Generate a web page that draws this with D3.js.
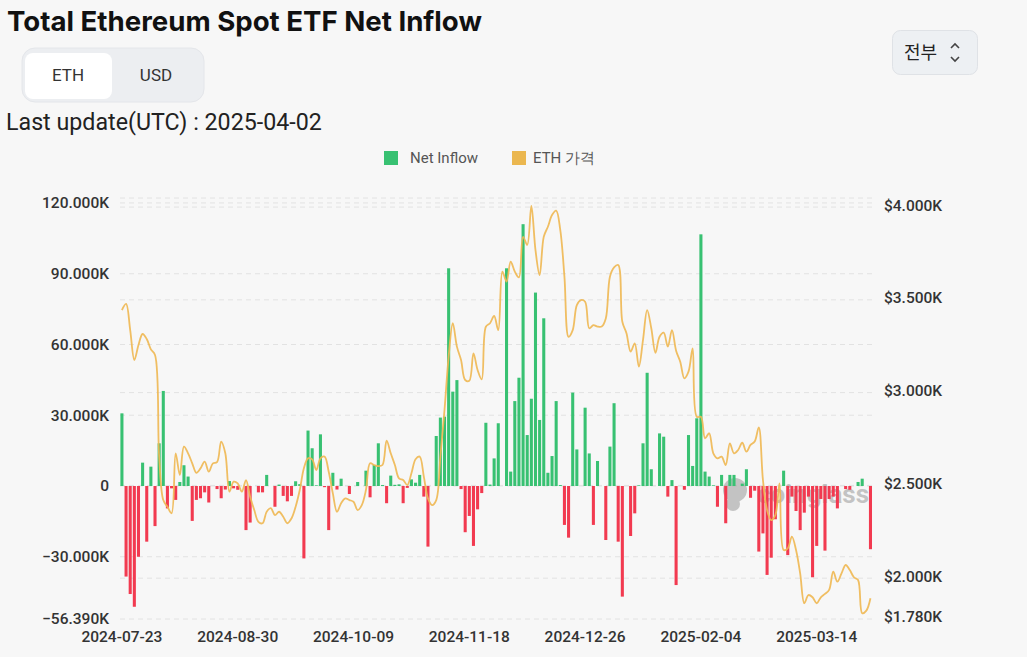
<!DOCTYPE html>
<html>
  <head>
    <meta charset="utf-8">
    <script src="https://d3js.org/d3.v7.min.js"></script>
    <title>Total Ethereum Spot ETF Net Inflow</title>
    <style>
      body { margin: 0; background: #f7f7f7; }
    </style>
  </head>
  <body>

    <svg></svg>

    <script type="text/javascript">

      // daily net inflow, thousands of ETH (one value per weekday, 2024-07-23 .. 2025-04-02)
      var netInflow = [
        30.8, -38.4, -45.8, -51.2, -30.0, 9.9, -23.6, 8.2, -17.0, 18.1,
        40.3, -9.5, -1.0, -5.9, 1.7, 8.8, 4.0, -14.8, -5.9, -5.2,
        -2.7, -7.0, 0, -1.3, -5.2, -1.5, 2.1, -1.0, -1.6, 0,
        -18.7, -15.5, 0, -2.7, -2.7, 4.7, 0, -8.8, 0.6, -4.2,
        -6.5, -4.2, 2.0, 0.8, -30.7, 23.5, 16.0, 0.3, 21.9, -0.5,
        -18.7, 5.6, -1.5, 3.1, 0, -3.4, 0, 1.7, 0, 6.5,
        -4.8, 8.9, 18.1, 0.4, -7.3, 4.4, 0.5, 0.7, -7.3, -0.8,
        2.8, 1.4, 4.7, -4.5, -25.7, 0, 21.2, 29.0, 29.4, 92.3,
        40.0, 44.9, -1.3, -19.6, -12.7, -25.4, -9.9, -3.0, 26.8, 0.6,
        11.7, 26.6, 0, 92.3, 6.1, 36.0, 45.9, 111.0, 21.6, 37.0,
        82.0, 28.0, 71.1, 5.6, 12.7, 36.0, 0.4, -16.5, -21.9, 39.6,
        15.5, 0, 33.2, 13.8, -16.5, 10.6, 0, -22.9, 16.7, 35.1,
        -23.6, -46.9, 0, -21.2, -11.6, 0.3, 18.1, 48.0, 7.1, 0,
        22.3, 20.9, -4.5, 2.5, -42.0, 0, -1.6, 21.6, 8.5, 28.7,
        106.7, 6.1, 4.0, 0.3, -8.8, 4.7, -15.8, 4.7, 4.7, 0,
        1.0, 7.1, -5.0, -2.0, -27.8, -20.1, -37.7, -30.4, -14.1, 0,
        6.5, -29.3, -4.5, -10.6, -18.7, -11.3, -4.5, -38.7, -25.4, -5.5,
        -27.4, -5.5, -4.5, -9.5, 0, -1.3, -1.6, 0, 1.7, 3.1,
        0, -26.8
      ];

      // ETH price, USD
      var ethPrice = [
        3445, 3478, 3337, 3176, 3257, 3316, 3289, 3233, 3203, 2655,
        2421, 2385, 2350, 2673, 2556, 2709, 2673, 2619, 2568, 2592,
        2628, 2574, 2619, 2625, 2736, 2673, 2466, 2520, 2511, 2466,
        2529, 2439, 2367, 2304, 2296, 2358, 2377, 2340, 2358, 2331,
        2296, 2322, 2385, 2475, 2592, 2646, 2640, 2583, 2646, 2655,
        2574, 2457, 2358, 2404, 2430, 2421, 2412, 2367, 2394, 2475,
        2619, 2610, 2604, 2610, 2741, 2673, 2610, 2538, 2529, 2502,
        2565, 2641, 2655, 2547, 2430, 2394, 2421, 2655, 2906, 3194,
        3374, 3248, 3176, 3068, 3064, 3212, 3122, 3072, 3355, 3374,
        3413, 3337, 3652, 3598, 3706, 3652, 3621, 3840, 3796, 4006,
        3768, 3634, 3840, 3894, 3957, 3981, 3876, 3625, 3301, 3337,
        3472, 3499, 3490, 3347, 3364, 3356, 3356, 3400, 3625, 3675,
        3688, 3382, 3320, 3221, 3266, 3140, 3284, 3445, 3347, 3215,
        3301, 3323, 3248, 3337, 3226, 3167, 3077, 3113, 3239, 2870,
        2870, 2754, 2781, 2673, 2646, 2655, 2610, 2727, 2673, 2691,
        2730, 2682, 2718, 2736, 2813, 2529, 2367, 2313, 2340, 2511,
        2152, 2161, 2224, 2152, 2026, 1865, 1909, 1897, 1865, 1897,
        1915, 1937, 2035, 1981, 2026, 2071, 2044, 2005, 1990, 1811,
        1825, 1892
      ];

      var xTickLabels = ["2024-07-23", "2024-08-30", "2024-10-09", "2024-11-18",
                         "2024-12-26", "2025-02-04", "2025-03-14"];
      var leftTicks = [120, 90, 60, 30, 0, -30, -56.39];
      var rightTicks = [4000, 3500, 3000, 2500, 2000, 1780];

      // every weekday in the range
      var fmt = d3.timeFormat("%Y-%m-%d");
      var dates = d3.timeDay.range(new Date(2024, 6, 23), new Date(2025, 3, 3))
                    .filter(d => d.getDay() != 0 && d.getDay() != 6)
                    .map(fmt);

      var width = 1027, height = 657;
      var svg = d3.select("svg").attr("width", width).attr("height", height)
                  .style("font-family", "Roboto, sans-serif");

      var x = d3.scaleBand().domain(dates).range([120.4, 872]).paddingInner(0.26);
      var yL = d3.scaleLinear().domain([-56.39, 122.1]).range([619, 198]);
      var yR = d3.scaleLinear().domain([1780, 4049]).range([619, 198]);
      var cx = d => x(d) + x.bandwidth()/2;

      // header
      var title = svg.append("text").attr("x", 7).attr("y", 31)
        .attr("font-family", "Inter, sans-serif").attr("font-weight", 700)
        .attr("font-size", 27).attr("fill", "#111")
        .text("Total Ethereum Spot ETF Net Inflow");
      var tw = title.node().getComputedTextLength();
      title.attr("font-size", 27 * 475 / tw);

      svg.append("rect").attr("x", 22).attr("y", 48).attr("width", 182).attr("height", 54)
        .attr("rx", 13).attr("fill", "#eceef1").attr("stroke", "#e4e6ea");
      svg.append("rect").attr("x", 25).attr("y", 53).attr("width", 87).attr("height", 46)
        .attr("rx", 8).attr("fill", "#fff");
      svg.append("text").attr("x", 68).attr("y", 81).attr("text-anchor", "middle")
        .attr("font-size", 17).attr("fill", "#333").text("ETH");
      svg.append("text").attr("x", 156).attr("y", 81).attr("text-anchor", "middle")
        .attr("font-size", 17).attr("fill", "#333").text("USD");

      var upd = svg.append("text").attr("x", 6).attr("y", 130)
        .attr("font-size", 21).attr("fill", "#222")
        .text("Last update(UTC) : 2025-04-02");
      upd.attr("font-size", 21 * 316 / upd.node().getComputedTextLength());

      svg.append("rect").attr("x", 892.5).attr("y", 30.5).attr("width", 85).attr("height", 44)
        .attr("rx", 8).attr("fill", "#edf0f3").attr("stroke", "#dfe2e6");
      svg.append("text").attr("x", 904).attr("y", 59)
        .attr("font-family", "'Noto Sans CJK KR', sans-serif").attr("font-size", 18)
        .attr("fill", "#222").text("전부");
      svg.append("path").attr("d", "M951,48 l4,-4 l4,4 M951,57 l4,4 l4,-4")
        .attr("fill", "none").attr("stroke", "#444").attr("stroke-width", 1.6);

      // legend
      svg.append("rect").attr("x", 384).attr("y", 151).attr("width", 14).attr("height", 14).attr("fill", "#38c172");
      svg.append("text").attr("x", 410).attr("y", 163).attr("font-size", 15).attr("fill", "#555").text("Net Inflow");
      svg.append("rect").attr("x", 512).attr("y", 151).attr("width", 14).attr("height", 14).attr("fill", "#ebb74f");
      svg.append("text").attr("x", 533).attr("y", 163).attr("font-size", 15).attr("fill", "#555")
        .text("ETH 가격");

      // grid lines
      var grid = svg.append("g").attr("stroke", "#e2e2e2").attr("stroke-dasharray", "5,4");
      grid.selectAll(".gl").data(leftTicks.concat([122.1])).join("line")
        .attr("x1", 120).attr("x2", 872)
        .attr("y1", d => yL(d)).attr("y2", d => yL(d));
      grid.selectAll(".gr").data(rightTicks.slice(0, 5)).join("line")
        .attr("x1", 120).attr("x2", 872)
        .attr("y1", d => yR(d)).attr("y2", d => yR(d));

      // axes labels
      var axisFont = g => g.attr("font-size", 15.5).attr("font-weight", 500).attr("fill", "#333");
      svg.append("g").call(axisFont).selectAll("text").data(leftTicks).join("text")
        .attr("x", 109).attr("y", d => yL(d)).attr("dy", "0.35em").attr("text-anchor", "end")
        .text(d => d == 0 ? "0" : d3.format(".3f")(d) + "K");
      svg.append("g").call(axisFont).selectAll("text").data(rightTicks).join("text")
        .attr("x", 884).attr("y", d => yR(d) - 2).attr("dy", "0.35em")
        .text(d => "$" + (d/1000).toFixed(3) + "K");
      svg.append("g").call(axisFont).selectAll("text").data(xTickLabels).join("text")
        .attr("x", d => cx(d)).attr("y", 642).attr("text-anchor", "middle")
        .text(d => d);

      // watermark
      var wm = svg.append("g").attr("opacity", 0.55).attr("fill", "#9a9a9a");
      wm.append("circle").attr("cx", 735).attr("cy", 490).attr("r", 12);
      wm.append("circle").attr("cx", 733).attr("cy", 504).attr("r", 7);
      wm.append("text").attr("x", 757).attr("y", 503).attr("font-size", 26)
        .attr("font-weight", 700).text("coinglass");

      // bars
      svg.append("g").selectAll("rect").data(dates).join("rect")
        .attr("x", d => x(d))
        .attr("width", x.bandwidth())
        .attr("y", (d, i) => yL(Math.max(0, netInflow[i])))
        .attr("height", (d, i) => Math.abs(yL(netInflow[i]) - yL(0)))
        .attr("fill", (d, i) => netInflow[i] >= 0 ? "#38c172" : "#f23a50");

      // price line
      var line = d3.line()
        .x((p, i) => cx(dates[i]))
        .y(p => yR(p))
        .curve(d3.curveCatmullRom.alpha(0.5));
      svg.append("path").datum(ethPrice)
        .attr("d", line)
        .attr("fill", "none")
        .attr("stroke", "#efb955")
        .attr("stroke-opacity", 0.92)
        .attr("stroke-width", 1.8);

    </script>
  </body>
</html>
